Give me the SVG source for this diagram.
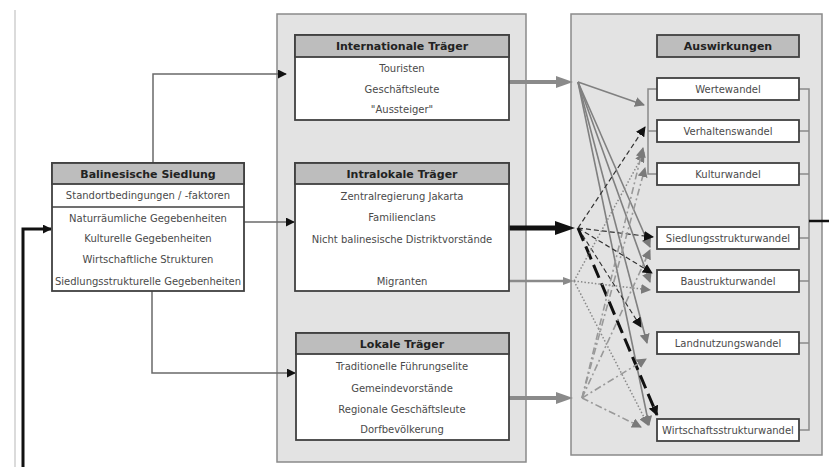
<svg xmlns="http://www.w3.org/2000/svg" width="829" height="467" viewBox="0 0 829 467">
<style>
.panel{fill:#e3e3e3;stroke:#8a8a8a;stroke-width:1.5}
.box{fill:#fff;stroke:#404040;stroke-width:1.8}
.hdr{fill:#bdbdbd;stroke:#404040;stroke-width:1.8}
.sep{stroke:#404040;stroke-width:1.5}
.t{font-family:"DejaVu Sans",sans-serif;font-size:10px;fill:#4a4a4a;text-anchor:middle}
.h{font-family:"DejaVu Sans",sans-serif;font-size:11px;font-weight:bold;fill:#222;text-anchor:middle}
.thin{fill:none;stroke:#6a6a6a;stroke-width:1.5}
.br{fill:none;stroke:#8a8a8a;stroke-width:1.5}
.sg{fill:none;stroke:#808080;stroke-width:1.6}
.dk{fill:none;stroke:#333;stroke-width:1.2;stroke-dasharray:5 3}
.dot{fill:none;stroke:#888;stroke-width:1.5;stroke-dasharray:1.5 2}
.dd{fill:none;stroke:#999;stroke-width:1.6;stroke-dasharray:7 3 2 3}
</style>
<defs>
<marker id="ab" viewBox="0 0 10 10" refX="9" refY="5" markerWidth="9" markerHeight="9" markerUnits="userSpaceOnUse" orient="auto"><path d="M0,0 L10,5 L0,10 z" fill="#111"/></marker>
<marker id="ag" viewBox="0 0 10 10" refX="9" refY="5" markerWidth="10" markerHeight="10" markerUnits="userSpaceOnUse" orient="auto"><path d="M0,0 L10,5 L0,10 z" fill="#7a7a7a"/></marker>
<marker id="ak" viewBox="0 0 10 10" refX="9" refY="5" markerWidth="10" markerHeight="10" markerUnits="userSpaceOnUse" orient="auto"><path d="M0,0 L10,5 L0,10 z" fill="#111"/></marker>
</defs>

<line x1="15" y1="10" x2="15" y2="467" stroke="#cfcfcf" stroke-width="1.5"/>

<rect class="panel" x="277" y="14" width="249" height="448"/>
<rect class="panel" x="571" y="14" width="251" height="441"/>

<g id="connectors">
<path d="M23,467 V229 H51" fill="none" stroke="#111" stroke-width="3" marker-end="url(#ab)"/>
<path class="thin" d="M153,163 V74 H286" marker-end="url(#ab)"/>
<path class="thin" d="M244,222 H294" marker-end="url(#ab)"/>
<path class="thin" d="M152,291 V373 H295" marker-end="url(#ab)"/>

<line x1="509" y1="82" x2="558" y2="82" stroke="#8a8a8a" stroke-width="4"/>
<polygon points="556,76 573,82 556,88" fill="#8a8a8a"/>
<line x1="509" y1="228" x2="558" y2="228" stroke="#111" stroke-width="5"/>
<polygon points="555,221 575,228 555,235" fill="#111"/>
<line x1="509" y1="281" x2="565" y2="281" stroke="#8a8a8a" stroke-width="2.5"/>
<polygon points="563,277 574,281 563,285" fill="#8a8a8a"/>
<line x1="509" y1="398" x2="558" y2="398" stroke="#8a8a8a" stroke-width="4"/>
<polygon points="556,392 573,398 556,404" fill="#8a8a8a"/>

<path class="sg" d="M578,82 L644,105" marker-end="url(#ag)"/>
<path class="sg" d="M578,82 L650,247" marker-end="url(#ag)"/>
<path class="sg" d="M578,82 L650,282" marker-end="url(#ag)"/>
<path class="sg" d="M578,82 L647,343" marker-end="url(#ag)"/>
<path class="sg" d="M578,82 L649,425" marker-end="url(#ag)"/>

<path class="dk" d="M578,228 L645,127" marker-end="url(#ak)"/>
<path class="dk" d="M578,228 L653,237" marker-end="url(#ak)"/>
<path class="dk" d="M578,228 L652,273" marker-end="url(#ak)"/>
<path class="dk" d="M578,228 L641,327" marker-end="url(#ak)"/>
<path d="M578,228 L657,415" fill="none" stroke="#111" stroke-width="3" stroke-dasharray="14 6" marker-end="url(#ak)"/>

<path class="dot" d="M574,281 L644,153" marker-end="url(#ag)"/>
<path class="dot" d="M574,281 L650,290" marker-end="url(#ag)"/>
<path class="dot" d="M574,281 L648,425" marker-end="url(#ag)"/>

<path class="dd" d="M582,398 L643,148" marker-end="url(#ag)"/>
<path class="dd" d="M582,398 L645,168" marker-end="url(#ag)"/>
<path class="dd" d="M582,398 L650,250" marker-end="url(#ag)"/>
<path class="dd" d="M582,398 L646,359" marker-end="url(#ag)"/>
<path class="dd" d="M582,398 L641,427" marker-end="url(#ag)"/>

<path class="br" d="M657,89 H648 V174 H657 M648,131 H657"/>
<path class="br" d="M799,89 H809 V430 H799 M799,131 H809 M799,174 H809 M799,238 H809 M799,281 H809 M799,343 H809"/>
<line x1="809" y1="221" x2="829" y2="221" stroke="#111" stroke-width="2.5"/>
</g>

<g id="balinesische-siedlung">
<rect class="box" x="52" y="163" width="192" height="128"/>
<rect class="hdr" x="52" y="163" width="192" height="21"/>
<line class="sep" x1="52" y1="207" x2="244" y2="207"/>
<text class="h" x="148" y="178">Balinesische Siedlung</text>
<text class="t" x="148" y="199">Standortbedingungen / -faktoren</text>
<text class="t" x="148" y="221.5">Naturräumliche Gegebenheiten</text>
<text class="t" x="148" y="241.5">Kulturelle Gegebenheiten</text>
<text class="t" x="148" y="262.5">Wirtschaftliche Strukturen</text>
<text class="t" x="148" y="284.5">Siedlungsstrukturelle Gegebenheiten</text>
</g>

<g id="internationale-traeger">
<rect class="box" x="295" y="35" width="214" height="85"/>
<rect class="hdr" x="295" y="35" width="214" height="22"/>
<text class="h" x="402" y="50">Internationale Träger</text>
<text class="t" x="402" y="72">Touristen</text>
<text class="t" x="402" y="93">Geschäftsleute</text>
<text class="t" x="402" y="113">"Aussteiger"</text>
</g>

<g id="intralokale-traeger">
<rect class="box" x="295" y="163" width="214" height="128"/>
<rect class="hdr" x="295" y="163" width="214" height="21"/>
<text class="h" x="402" y="178">Intralokale Träger</text>
<text class="t" x="402" y="199.5">Zentralregierung Jakarta</text>
<text class="t" x="402" y="220.5">Familienclans</text>
<text class="t" x="402" y="242.5">Nicht balinesische Distriktvorstände</text>
<text class="t" x="402" y="284.5">Migranten</text>
</g>

<g id="lokale-traeger">
<rect class="box" x="296" y="333" width="213" height="107"/>
<rect class="hdr" x="296" y="333" width="213" height="21"/>
<text class="h" x="402" y="348">Lokale Träger</text>
<text class="t" x="402" y="369.5">Traditionelle Führungselite</text>
<text class="t" x="402" y="391.5">Gemeindevorstände</text>
<text class="t" x="402" y="412.5">Regionale Geschäftsleute</text>
<text class="t" x="402" y="432.5">Dorfbevölkerung</text>
</g>

<g id="auswirkungen">
<rect class="hdr" x="657" y="35" width="142" height="22"/>
<text class="h" x="728" y="50">Auswirkungen</text>
</g>
<g id="wertewandel"><rect class="box" x="657" y="78" width="142" height="22"/><text class="t" x="728" y="92.5">Wertewandel</text></g>
<g id="verhaltenswandel"><rect class="box" x="657" y="120" width="142" height="22"/><text class="t" x="728" y="134.5">Verhaltenswandel</text></g>
<g id="kulturwandel"><rect class="box" x="657" y="163" width="142" height="22"/><text class="t" x="728" y="177.5">Kulturwandel</text></g>
<g id="siedlungsstrukturwandel"><rect class="box" x="657" y="227" width="142" height="22"/><text class="t" x="728" y="241.5">Siedlungsstrukturwandel</text></g>
<g id="baustrukturwandel"><rect class="box" x="657" y="270" width="142" height="22"/><text class="t" x="728" y="284.5">Baustrukturwandel</text></g>
<g id="landnutzungswandel"><rect class="box" x="657" y="332" width="142" height="22"/><text class="t" x="728" y="346.5">Landnutzungswandel</text></g>
<g id="wirtschaftsstrukturwandel"><rect class="box" x="657" y="419" width="142" height="22"/><text class="t" x="728" y="433.5">Wirtschaftsstrukturwandel</text></g>
</svg>
